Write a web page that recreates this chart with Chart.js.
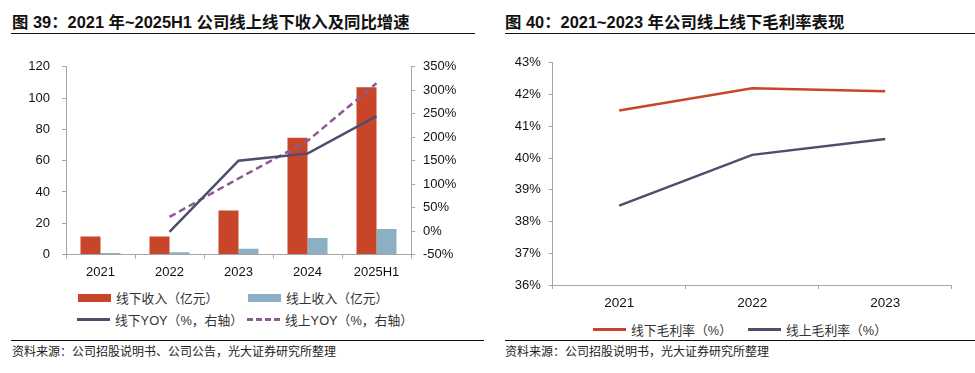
<!DOCTYPE html>
<html>
<head>
<meta charset="utf-8">
<script src="https://cdn.jsdelivr.net/npm/chart.js@4.4.1/dist/chart.umd.min.js"></script>
<style>
  body { margin: 0; width: 975px; height: 373px; background: #fff; position: relative; overflow: hidden;
         font-family: "Liberation Sans", "Noto Sans CJK SC", sans-serif; color: #222; }
  .title { position: absolute; top: 9px; font: bold 16.4px "Liberation Sans", "Noto Sans CJK SC", sans-serif; color: #111; white-space: nowrap; }
  .rule { position: absolute; height: 0; border-top: 1.5px solid #111; }
  .source { position: absolute; top: 342px; font: 12px "Noto Sans CJK SC", sans-serif; color: #222; white-space: nowrap; }
  .box { position: absolute; }
  canvas { display: block; }
  .legend-item { position: absolute; display: flex; align-items: center; font: 12.8px "Liberation Sans", "Noto Sans CJK SC", sans-serif; color: #333; white-space: nowrap; }
  .legend-item .sym { width: 33px; height: 8px; margin-right: 5px; position: relative; }
</style>
</head>
<body>
<div class="title" style="left:12px">图 39：2021 年~2025H1 公司线上线下收入及同比增速</div>
<div class="rule" style="left:11px; width:464px; top:33px"></div>
<div class="title" style="left:505px">图 40：2021~2023 年公司线上线下毛利率表现</div>
<div class="rule" style="left:505px; width:470px; top:33px"></div>

<div class="box" style="left:0; top:47px; width:480px; height:238px"><canvas id="revenueChart"></canvas></div>
<div class="box" style="left:490px; top:47px; width:485px; height:263px"><canvas id="marginChart"></canvas></div>
<div id="revenueLegend"></div>
<div id="marginLegend"></div>

<div class="rule" style="left:11px; width:473px; top:340px"></div>
<div class="source" style="left:12px">资料来源：公司招股说明书、公司公告，光大证券研究所整理</div>
<div class="rule" style="left:505px; width:470px; top:340px"></div>
<div class="source" style="left:505px">资料来源：公司招股说明书，光大证券研究所整理</div>

<script>
// Left chart data
const revenueYears = ['2021', '2022', '2023', '2024', '2025H1'];
const offlineRevenue = [11.5, 11.5, 28.1, 74.7, 107];
const onlineRevenue = [1.0, 1.5, 3.7, 10.6, 16.3];
const offlineYoy = [null, -2, 150, 165, 245];
const onlineYoy = [null, 30, 112, 192, 315];

// Right chart data
const marginYears = ['2021', '2022', '2023'];
const offlineMargin = [41.5, 42.2, 42.1];
const onlineMargin = [38.5, 40.1, 40.6];

const RED = '#C8452A';
const BLUE = '#8BB0C4';
const NAVY = '#4F4D6E';
const PURPLE = '#8C5A94';
const AXIS = '#A6A6A6';
const tickFont = { family: '"Liberation Sans", Arial, sans-serif', size: 13 };

Chart.defaults.animation = false;
Chart.defaults.color = '#222';

function fixWidth(w) {
  return scale => { scale.width = w; };
}
function fixHeight(h) {
  return scale => { scale.height = h; };
}

new Chart(document.getElementById('revenueChart'), {
  type: 'bar',
  data: {
    labels: revenueYears,
    datasets: [
      { label: '线下收入（亿元）', data: offlineRevenue, backgroundColor: RED, yAxisID: 'y', order: 1,
        categoryPercentage: 0.58, barPercentage: 1 },
      { label: '线上收入（亿元）', data: onlineRevenue, backgroundColor: BLUE, yAxisID: 'y', order: 1,
        categoryPercentage: 0.58, barPercentage: 1 },
      { type: 'line', label: '线下YOY（%，右轴）', data: offlineYoy, borderColor: NAVY, borderWidth: 2.5,
        pointRadius: 0, yAxisID: 'y1', order: 0, tension: 0 },
      { type: 'line', label: '线上YOY（%，右轴）', data: onlineYoy, borderColor: PURPLE, borderWidth: 2.5,
        borderDash: [7, 4], pointRadius: 0, yAxisID: 'y1', order: 0, tension: 0 }
    ]
  },
  options: {
    responsive: true,
    maintainAspectRatio: false,
    layout: { padding: { top: 11.5, left: 0, right: 0, bottom: 0 } },
    plugins: { legend: { display: false }, tooltip: { enabled: false } },
    scales: {
      x: {
        grid: { drawOnChartArea: false, color: AXIS, tickLength: 4, offset: true },
        border: { color: AXIS },
        ticks: { font: tickFont, padding: 6, color: '#111' },
        afterFit: fixHeight(30.5)
      },
      y: {
        position: 'left', min: 0, max: 120,
        grid: { drawOnChartArea: false, color: AXIS, tickLength: 4 },
        border: { color: AXIS },
        ticks: { stepSize: 20, font: tickFont, padding: 12, color: '#111' },
        afterFit: fixWidth(66)
      },
      y1: {
        position: 'right', min: -50, max: 350,
        grid: { drawOnChartArea: false, color: AXIS, tickLength: 4 },
        border: { color: AXIS },
        ticks: { stepSize: 50, font: tickFont, padding: 8, color: '#111', callback: v => v + '%' },
        afterFit: fixWidth(69)
      }
    }
  }
});

new Chart(document.getElementById('marginChart'), {
  type: 'line',
  data: {
    labels: marginYears,
    datasets: [
      { label: '线下毛利率（%）', data: offlineMargin, borderColor: RED, borderWidth: 2.5, pointRadius: 0, tension: 0 },
      { label: '线上毛利率（%）', data: onlineMargin, borderColor: NAVY, borderWidth: 2.5, pointRadius: 0, tension: 0 }
    ]
  },
  options: {
    responsive: true,
    maintainAspectRatio: false,
    layout: { padding: { top: 9, left: 0, right: 23.3, bottom: 0 } },
    plugins: { legend: { display: false }, tooltip: { enabled: false } },
    scales: {
      x: {
        offset: true,
        grid: { drawOnChartArea: false, color: AXIS, tickLength: 4, offset: true },
        border: { color: AXIS },
        ticks: { font: { ...tickFont, size: 13.5 }, padding: 6, color: '#111' },
        afterFit: fixHeight(25)
      },
      y: {
        min: 36, max: 43,
        grid: { drawOnChartArea: false, color: AXIS, tickLength: 4 },
        border: { color: AXIS },
        ticks: { stepSize: 1, font: tickFont, padding: 8, color: '#111', callback: v => v + '%' },
        afterFit: fixWidth(62.7)
      }
    }
  }
});

// HTML legends built from the dataset labels and colours
function legendItem(parent, left, top, label, color, kind) {
  const item = document.createElement('div');
  item.className = 'legend-item';
  item.style.left = left + 'px';
  item.style.top = (top - 9) + 'px';
  const sym = document.createElement('div');
  sym.className = 'sym';
  if (kind === 'box') {
    sym.style.background = color;
  } else if (kind === 'line') {
    sym.style.height = '3px';
    sym.style.background = color;
  } else {
    sym.style.height = '0';
    sym.style.borderTop = '3px dashed ' + color;
  }
  item.appendChild(sym);
  const text = document.createElement('span');
  text.textContent = label;
  item.appendChild(text);
  parent.appendChild(item);
}

const revLegend = document.getElementById('revenueLegend');
legendItem(revLegend, 78, 297, '线下收入（亿元）', RED, 'box');
legendItem(revLegend, 248, 297, '线上收入（亿元）', BLUE, 'box');
legendItem(revLegend, 77, 319, '线下YOY（%，右轴）', NAVY, 'line');
legendItem(revLegend, 247, 319, '线上YOY（%，右轴）', PURPLE, 'dash');

const marLegend = document.getElementById('marginLegend');
legendItem(marLegend, 593, 329, '线下毛利率（%）', RED, 'line');
legendItem(marLegend, 748, 329, '线上毛利率（%）', NAVY, 'line');
</script>
</body>
</html>
